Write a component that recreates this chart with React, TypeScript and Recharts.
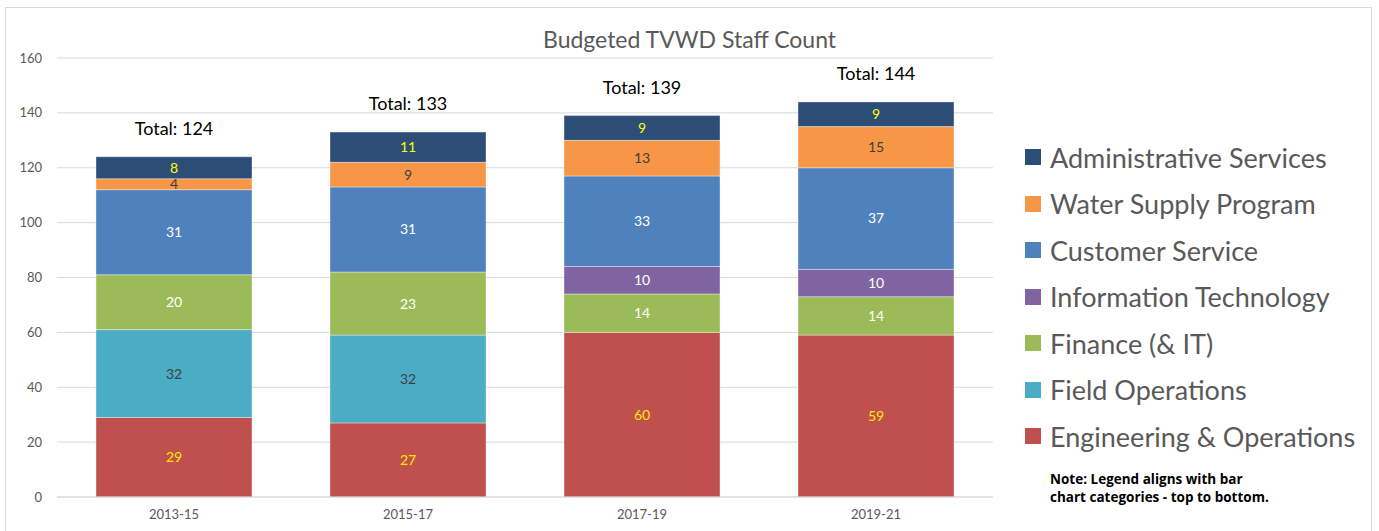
import React from 'react';
import { BarChart, Bar, XAxis, YAxis, CartesianGrid, LabelList } from 'recharts';

const categories = ['2013-15', '2015-17', '2017-19', '2019-21'];
const engineeringOps = [29, 27, 60, 59];
const fieldOps = [32, 32, 0, 0];
const finance = [20, 23, 14, 14];
const infoTech = [0, 0, 10, 10];
const customerService = [31, 31, 33, 37];
const waterSupply = [4, 9, 13, 15];
const adminServices = [8, 11, 9, 9];
const totals = [124, 133, 139, 144];
const yTicks = [0, 20, 40, 60, 80, 100, 120, 140, 160];

const series = [
  { key: 'eng', name: 'Engineering & Operations', values: engineeringOps, color: '#C0504D', label: '#FFE600' },
  { key: 'field', name: 'Field Operations', values: fieldOps, color: '#4BACC6', label: '#404040' },
  { key: 'fin', name: 'Finance (& IT)', values: finance, color: '#9BBB59', label: '#FFFFFF' },
  { key: 'it', name: 'Information Technology', values: infoTech, color: '#8064A2', label: '#FFFFFF' },
  { key: 'cs', name: 'Customer Service', values: customerService, color: '#4F81BD', label: '#FFFFFF' },
  { key: 'ws', name: 'Water Supply Program', values: waterSupply, color: '#F79646', label: '#404040' },
  { key: 'admin', name: 'Administrative Services', values: adminServices, color: '#2C4D75', label: '#FFFF00' },
];

const data = categories.map((c, i) => {
  const row: any = { category: c, total: totals[i] };
  series.forEach((s) => { row[s.key] = s.values[i]; });
  return row;
});

const FONT = 'Lato, "Open Sans", sans-serif';

const LegendBlock = () => (
  <div style={{ position: 'absolute', left: 1025, top: 134, width: 354, fontFamily: FONT }}>
    {[...series].reverse().map((s) => (
      <div key={s.key} style={{ display: 'flex', alignItems: 'center', height: 46.5 }}>
        <div style={{ width: 16, height: 16, background: s.color, marginRight: 9, flexShrink: 0 }} />
        <span style={{ fontSize: 27, color: '#595959', whiteSpace: 'nowrap' }}>{s.name}</span>
      </div>
    ))}
    <div style={{ marginLeft: 25, marginTop: 10, fontSize: 13.5, fontWeight: 700, color: '#000', lineHeight: '18px', fontFamily: '"Open Sans", sans-serif', whiteSpace: 'nowrap' }}>
      Note:  Legend aligns with  bar<br />chart  categories - top  to bottom.
    </div>
  </div>
);

const TotalLabel = (props: any) => {
  const { x, y, width, index } = props;
  return (
    <text x={x + width / 2} y={y - 22} textAnchor="middle" fontSize={18} fill="#000" fontFamily={FONT}>
      {`Total: ${totals[index]}`}
    </text>
  );
};

export default function App() {
  return (
    <div style={{ position: 'absolute', left: 0, top: 0, width: 1379, height: 531, background: '#fff' }}>
      <div style={{ position: 'absolute', left: 5, top: 7, width: 1367, height: 530, border: '1px solid #D9D9D9', boxSizing: 'border-box' }} />
      <div style={{ position: 'absolute', left: 543, top: 25, whiteSpace: 'nowrap', fontFamily: FONT, fontSize: 23, color: '#595959' }}>
        Budgeted TVWD Staff Count
      </div>
      <BarChart
        width={1379}
        height={531}
        data={data}
        margin={{ top: 58, right: 386, bottom: 0, left: 0 }}
        barCategoryGap="16.67%"
        style={{ position: 'absolute', left: 0, top: 0 }}
      >
        <CartesianGrid vertical={false} stroke="#D9D9D9" strokeWidth={1} />
        <XAxis
          dataKey="category"
          axisLine={{ stroke: '#D9D9D9' }}
          tickLine={false}
          tickMargin={7}
          height={34}
          tick={{ fontSize: 13, fill: '#595959', fontFamily: FONT }}
        />
        <YAxis
          domain={[0, 160]}
          ticks={yTicks}
          axisLine={false}
          tickLine={false}
          tickMargin={9}
          width={57}
          interval={0}
          tick={{ fontSize: 13, fill: '#595959', fontFamily: FONT }}
        />
        {series.map((s, idx) => (
          <Bar
            key={s.key}
            dataKey={s.key}
            name={s.name}
            stackId="a"
            fill={s.color}
            stroke="#FFFFFF"
            strokeOpacity={0.5}
            strokeWidth={0.75}
            isAnimationActive={false}
          >
            <LabelList
              dataKey={s.key}
              position="center"
              fill={s.label}
              fontSize={14}
              fontFamily={FONT}
              formatter={(v: any) => (v ? String(v) : '')}
            />
            {idx === series.length - 1 && <LabelList dataKey="total" content={<TotalLabel />} />}
          </Bar>
        ))}
      </BarChart>
      <LegendBlock />
    </div>
  );
}
